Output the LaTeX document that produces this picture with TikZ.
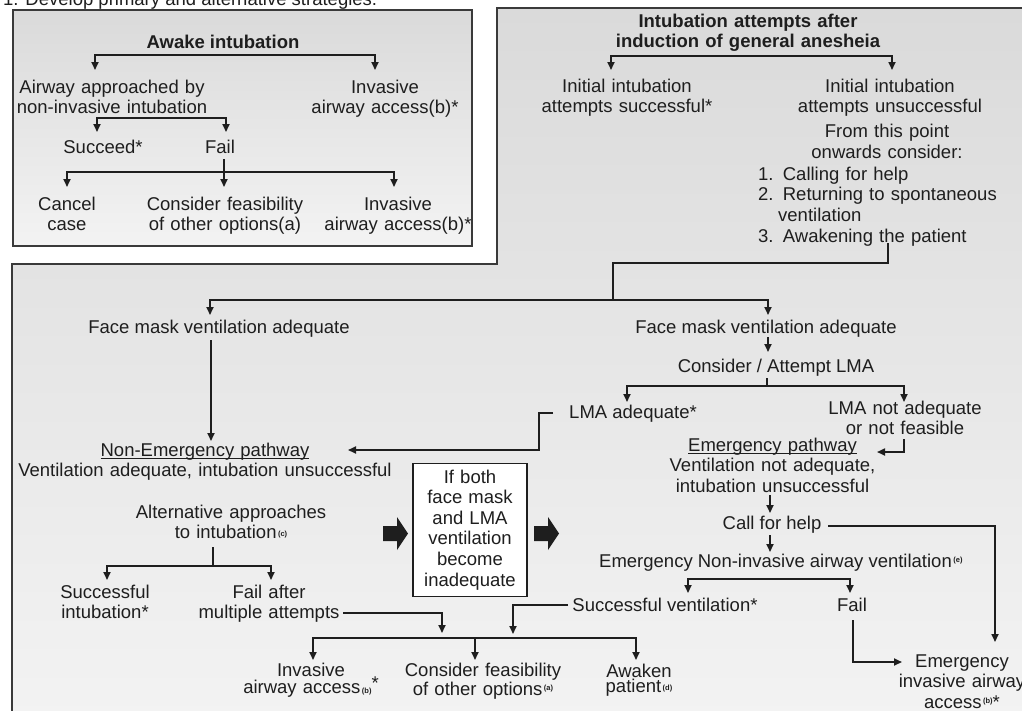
\documentclass[tikz,border=0pt]{standalone}
\usepackage{fontspec}
\setmainfont{Liberation Sans}
\usetikzlibrary{arrows.meta}
\definecolor{ink}{HTML}{1E1E1E}
\definecolor{edge}{HTML}{3A3A3A}
\definecolor{bgtop}{HTML}{DADADA}
\definecolor{bgbot}{HTML}{F3F3F3}
\newcommand\dgfont{\fontsize{18.5}{20.7}\selectfont}
\newcommand\ulpath[1]{\setbox0\hbox{#1}\rlap{\rule[-2.4pt]{\wd0}{0.9pt}}\box0}
\newcommand\fnref[2]{\kern1.5pt\raisebox{#1}{\fontsize{7.5}{8}\selectfont\bfseries(#2)}}
\tikzset{
  ah/.tip={Triangle[width=7pt,length=8pt]},
  txt/.style={font=\dgfont, text=ink, inner sep=0pt, anchor=base},
  mtxt/.style={txt, align=center, text width=#1},
  conn/.style={draw=ink, line width=1.7pt},
  arr/.style={conn, -ah},
  barr/.style={conn, ah-ah},
  panel/.style={draw=edge, line width=1.3pt},
}
\begin{document}
\lineskiplimit=-30pt
\begin{tikzpicture}[x=1pt,y=-1pt]
\useasboundingbox (0,0) rectangle (1022,710);

% panels
\path[top color=bgtop, bottom color=bgbot] (497,8) -- (1030,8) -- (1030,720) -- (12,720) -- (12,264) -- (497,264) -- cycle;
\draw[panel] (1030,8) -- (497,8) -- (497,264) -- (12,264) -- (12,720);
\path[top color=bgtop, bottom color=bgbot] (13,10) rectangle (472,246);
\draw[panel] (13,10) rectangle (472,246);

% header
\node[txt, anchor=base west] (hdr) at (3,5) {1. Develop primary and alternative strategies.};

% awake intubation box
\node[txt, font=\dgfont\bfseries] (awake) at (223,48) {Awake intubation};
\node[mtxt=200pt] (airway) at (112,93) {Airway approached by\\non-invasive intubation};
\node[mtxt=150pt] (invA) at (385,93) {Invasive\\airway access(b)*};
\node[txt] (succ) at (103,153) {Succeed*};
\node[txt] (failA) at (220,153) {Fail};
\node[mtxt=70pt] (cancel) at (67,210) {Cancel\\case};
\node[mtxt=165pt] (consA) at (225,210) {Consider feasibility\\of other options(a)};
\node[mtxt=150pt] (invB) at (398,210) {Invasive\\airway access(b)*};

\draw[barr] (95,70) -- (95,55) -- (375,55) -- (375,70);
\draw[barr] (97,132) -- (97,118) -- (226,118) -- (226,132);
\draw[arr] (224,159) -- (224,187);
\draw[barr] (67,187) -- (67,172) -- (394,172) -- (394,187);

% general anesthesia part
\node[mtxt=280pt, font=\dgfont\bfseries] (title) at (748,27) {Intubation attempts after\\induction of general anesheia};
\node[mtxt=180pt] (initS) at (627,92) {Initial intubation\\attempts successful*};
\node[mtxt=190pt] (initU) at (890,92) {Initial intubation\\attempts unsuccessful};
\node[mtxt=160pt] (from) at (887,137.5) {From this point\\onwards consider:};
\node[txt, anchor=base west, align=left, text width=240pt] (list) at (758,180)
  {1. Calling for help\\2. Returning to spontaneous\\\hspace*{20pt}ventilation\\3. Awakening the patient};

\draw[barr] (611,70) -- (611,56) -- (892,56) -- (892,70);
\draw[conn] (888,243) -- (888,263) -- (613,263) -- (613,300);
\draw[barr] (210,315) -- (210,300) -- (768,300) -- (768,315);

% left branch
\node[txt] (fmL) at (219,333) {Face mask ventilation adequate};
\draw[arr] (211,340) -- (211,441);
\node[mtxt=380pt] (nonem) at (205,456) {\ulpath{Non-Emergency pathway}\\Ventilation adequate, intubation unsuccessful};

% right branch
\node[txt] (fmR) at (766,333) {Face mask ventilation adequate};
\draw[arr] (768,337) -- (768,352);
\node[txt] (lma) at (776,372) {Consider / Attempt LMA};
\draw[conn] (767,378) -- (767,386);
\draw[barr] (627,402) -- (627,386) -- (904,386) -- (904,402);
\node[txt] (lmaok) at (633,418) {LMA adequate*};
\node[mtxt=160pt] (lmano) at (905,414) {LMA not adequate\\or not feasible};
\draw[arr] (553,413) -- (539,413) -- (539,450) -- (348,450);
\draw[arr] (904,439) -- (904,452) -- (877,452);
\node[mtxt=210pt] (emp) at (772.5,451) {\ulpath{Emergency pathway}\\Ventilation not adequate,\\intubation unsuccessful};
\draw[arr] (770,495) -- (770,513);
\node[txt] (cfh) at (772,529) {Call for help};
\draw[arr] (828,526) -- (995,526) -- (995,642);
\draw[arr] (770,535) -- (770,552);
\node[txt, anchor=base west] (eniv) at (599,567) {Emergency Non-invasive airway ventilation\fnref{4.5pt}{e}};
\draw[barr] (688,593) -- (688,579) -- (850,579) -- (850,593);
\node[txt] (sv) at (665,611) {Successful ventilation*};
\node[txt] (failB) at (852,611) {Fail};
\draw[arr] (853,620) -- (853,662) -- (902,662);
\node[mtxt=130pt] (eia) at (962,667) {Emergency\\invasive airway\\access\fnref{4.5pt}{b}*};
\draw[arr] (568,605) -- (513,605) -- (513,634);

% non-emergency continuation
\node[mtxt=200pt] (alt) at (231,518) {Alternative approaches\\to intubation\fnref{2pt}{c}};
\draw[conn] (213,547) -- (213,566);
\draw[barr] (107,580) -- (107,566) -- (271,566) -- (271,580);
\node[mtxt=100pt] (sint) at (105,598) {Successful\\intubation*};
\node[mtxt=150pt] (fam) at (269,598) {Fail after\\multiple attempts};
\draw[arr] (343,613) -- (442,613) -- (442,633);
\draw[barr] (313,660) -- (313,638) -- (636,638) -- (636,660);
\draw[arr] (475,638) -- (475,660);
\node[mtxt=150pt, font=\fontsize{18.5}{11}\selectfont] (invC) at (311,676) {Invasive\\airway access\fnref{0pt}{b}\raisebox{4pt}{*}};
\node[mtxt=165pt, font=\fontsize{18.5}{19}\selectfont] (consB) at (483,676) {Consider feasibility\\of other options\fnref{4.5pt}{a}};
\node[mtxt=75pt, font=\fontsize{18.5}{15}\selectfont] (awk) at (639,677) {Awaken\\patient\fnref{2pt}{d}};

% central box and block arrows
\node[mtxt=110pt, font=\fontsize{18.5}{20.6}\selectfont, draw=ink, fill=white, line width=1.2pt, inner xsep=2pt, inner ysep=6.3pt] (ifb) at (470,483) {If both\\face mask\\and LMA\\ventilation\\become\\inadequate};
\fill[ink] (383,526) -- (397,526) -- (397,517) -- (408,533.5) -- (397,550) -- (397,541) -- (383,541) -- cycle;
\fill[ink] (534,526) -- (548,526) -- (548,517) -- (559,533.5) -- (548,550) -- (548,541) -- (534,541) -- cycle;
\end{tikzpicture}
\end{document}
